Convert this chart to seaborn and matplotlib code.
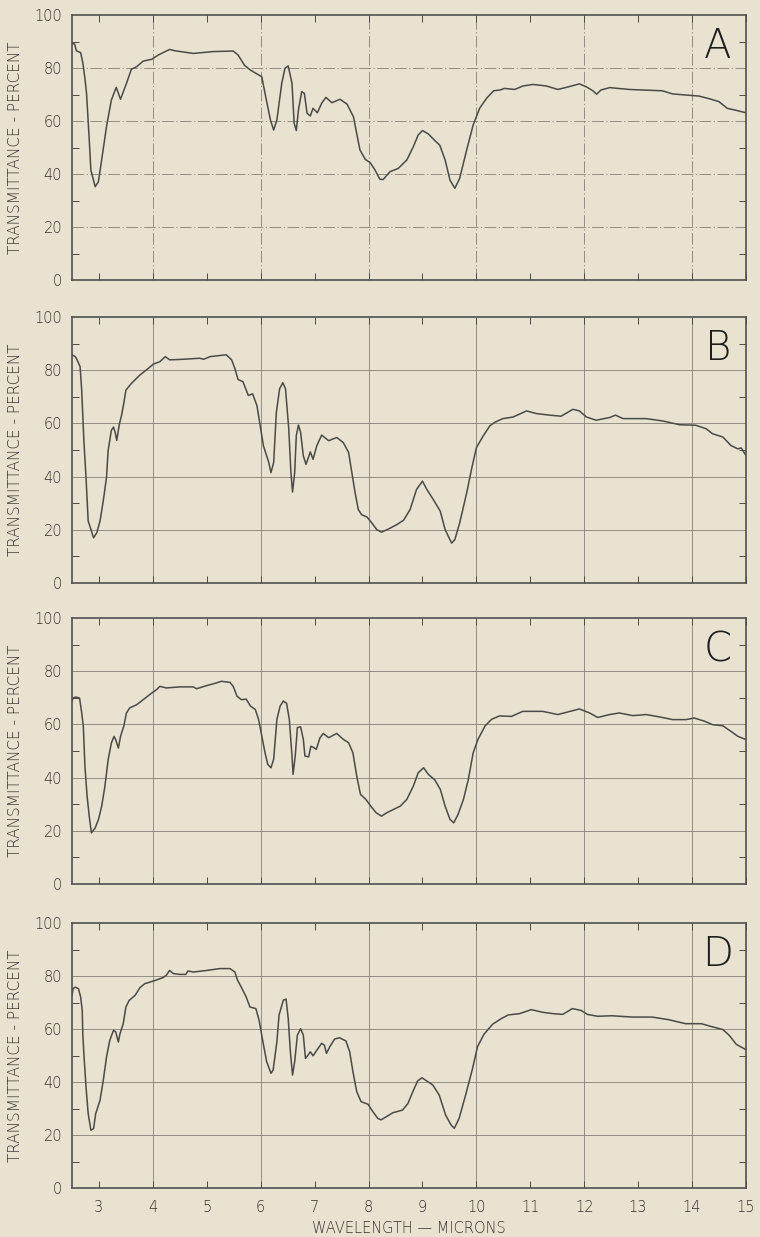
import matplotlib
matplotlib.use("Agg")
import matplotlib.pyplot as plt
import seaborn as sns
import pandas as pd
from matplotlib.ticker import FixedLocator

# ---------------- data ----------------
wl_A = [2.50, 2.55, 2.58, 2.66, 2.70, 2.74, 2.77, 2.82, 2.85, 2.93, 2.99, 3.05, 3.14, 3.23, 3.32, 3.40,
        3.51, 3.60, 3.70, 3.82, 3.98, 4.10, 4.31, 4.41, 4.75, 5.12, 5.49, 5.58, 5.70, 5.81, 6.02, 6.08,
        6.18, 6.24, 6.30, 6.39, 6.45, 6.51, 6.58, 6.62, 6.66, 6.70, 6.76, 6.81, 6.86, 6.92, 6.97, 7.05,
        7.13, 7.21, 7.32, 7.47, 7.60, 7.72, 7.78, 7.84, 7.94, 8.03, 8.12, 8.21, 8.27, 8.40, 8.55, 8.71,
        8.83, 8.92, 9.00, 9.11, 9.23, 9.32, 9.42, 9.51, 9.60, 9.69, 9.82, 9.94, 10.06, 10.19, 10.32, 10.44,
        10.52, 10.71, 10.86, 11.05, 11.30, 11.51, 11.67, 11.91, 12.04, 12.16, 12.23, 12.31, 12.47, 12.84,
        13.45, 13.64, 13.89, 14.13, 14.32, 14.50, 14.65, 14.78, 15.00]
tr_A = [89.3, 89.0, 86.5, 85.8, 82.0, 76.0, 70.4, 52.8, 41.5, 35.2, 37.1, 45.3, 57.9, 67.9, 72.7, 68.2,
        74.2, 79.5, 80.5, 82.6, 83.3, 84.9, 87.0, 86.5, 85.5, 86.2, 86.4, 84.9, 81.0, 79.2, 76.7, 70.4,
        60.4, 56.6, 60.4, 74.2, 79.9, 80.8, 74.2, 59.1, 56.4, 64.2, 71.1, 70.4, 62.9, 61.9, 64.8, 63.1,
        66.7, 68.9, 66.9, 68.2, 66.4, 61.6, 55.3, 49.1, 45.5, 44.3, 41.5, 38.0, 37.9, 40.9, 42.1, 45.3,
        50.3, 54.7, 56.4, 55.1, 52.6, 50.9, 45.3, 37.7, 34.6, 38.4, 49.1, 58.5, 64.8, 68.6, 71.4, 71.7,
        72.3, 71.9, 73.2, 73.8, 73.2, 71.9, 72.7, 74.0, 72.9, 71.4, 70.1, 71.7, 72.6, 71.9,
        71.4, 70.2, 69.8, 69.4, 68.4, 67.3, 64.8, 64.2, 63.1]

wl_B = [2.50, 2.56, 2.59, 2.65, 2.68, 2.72, 2.76, 2.80, 2.85, 2.90, 2.96, 3.02, 3.08, 3.14, 3.17, 3.23,
        3.27, 3.30, 3.33, 3.38, 3.42, 3.46, 3.50, 3.60, 3.76, 3.88, 4.01, 4.13, 4.23, 4.31, 4.56, 4.87,
        4.94, 5.06, 5.36, 5.46, 5.52, 5.58, 5.67, 5.77, 5.85, 5.93, 5.99, 6.05, 6.15, 6.19, 6.24, 6.29,
        6.35, 6.41, 6.46, 6.52, 6.56, 6.59, 6.63, 6.66, 6.70, 6.74, 6.79, 6.84, 6.92, 6.97, 7.04, 7.13,
        7.26, 7.41, 7.53, 7.63, 7.69, 7.75, 7.81, 7.87, 7.97, 8.06, 8.15, 8.24, 8.37, 8.52, 8.65, 8.77,
        8.89, 9.00, 9.08, 9.20, 9.33, 9.42, 9.54, 9.60, 9.69, 9.82, 9.91, 10.00, 10.13, 10.25, 10.34,
        10.49, 10.68, 10.93, 11.11, 11.36, 11.57, 11.79, 11.91, 12.04, 12.22, 12.47, 12.58, 12.72, 13.15,
        13.46, 13.77, 14.07, 14.26, 14.38, 14.57, 14.72, 14.85, 14.91, 15.00]
tr_B = [85.8, 85.1, 84.1, 81.3, 72.5, 53.6, 39.7, 23.3, 20.2, 17.0, 18.9, 23.3, 30.9, 39.7, 49.8, 57.4,
        58.6, 56.7, 53.6, 59.9, 63.1, 67.5, 72.5, 75.0, 78.2, 80.1, 82.3, 83.2, 85.1, 83.9, 84.1, 84.5,
        84.1, 85.1, 85.8, 83.9, 80.7, 76.5, 75.7, 70.5, 71.1, 66.7, 59.1, 51.6, 45.3, 41.5, 45.3, 64.2,
        73.0, 75.3, 73.0, 57.9, 41.5, 34.2, 41.5, 55.4, 59.4, 56.6, 47.8, 44.6, 49.3, 46.5, 51.6, 55.6,
        53.5, 54.7, 52.8, 49.1, 41.5, 34.0, 27.6, 25.7, 24.8, 22.6, 20.1, 19.1, 20.3, 21.9, 23.6, 27.6,
        35.2, 38.3, 35.2, 31.4, 27.0, 20.1, 15.0, 16.3, 22.6, 33.9, 42.8, 50.9, 55.4, 59.1, 60.4,
        61.8, 62.4, 64.7, 63.7, 63.1, 62.7, 65.3, 64.7, 62.4, 61.2, 62.2, 63.1, 61.8, 61.8,
        60.9, 59.5, 59.3, 58.0, 56.1, 54.9, 51.7, 50.4, 50.8, 47.9]

wl_C = [2.50, 2.52, 2.57, 2.64, 2.68, 2.71, 2.74, 2.78, 2.82, 2.86, 2.93, 2.99, 3.05, 3.11, 3.17, 3.23,
        3.28, 3.31, 3.36, 3.40, 3.46, 3.51, 3.57, 3.70, 3.82, 3.98, 4.07, 4.13, 4.25, 4.50, 4.75, 4.81,
        5.00, 5.18, 5.27, 5.43, 5.49, 5.56, 5.64, 5.73, 5.81, 5.90, 5.96, 6.02, 6.08, 6.13, 6.19, 6.24,
        6.30, 6.36, 6.42, 6.48, 6.53, 6.58, 6.60, 6.64, 6.68, 6.74, 6.79, 6.82, 6.89, 6.93, 6.98, 7.03,
        7.10, 7.16, 7.26, 7.41, 7.53, 7.63, 7.71, 7.78, 7.85, 7.95, 8.04, 8.14, 8.24, 8.34, 8.46, 8.59,
        8.71, 8.83, 8.92, 9.02, 9.11, 9.23, 9.33, 9.42, 9.51, 9.58, 9.66, 9.76, 9.85, 9.94, 10.03, 10.16,
        10.28, 10.43, 10.65, 10.86, 11.23, 11.51, 11.70, 11.91, 12.10, 12.25, 12.47, 12.65, 12.90, 13.15,
        13.40, 13.64, 13.89, 14.04, 14.23, 14.38, 14.57, 14.72, 14.85, 15.00]
tr_C = [68.7, 69.9, 70.3, 69.9, 64.3, 59.3, 44.2, 33.0, 25.4, 19.2, 21.1, 24.2, 29.2, 36.7, 46.7, 53.0,
        55.5, 54.3, 51.1, 55.5, 59.3, 64.3, 66.2, 67.4, 69.3, 71.8, 73.1, 74.3, 73.7, 74.1, 74.1, 73.4,
        74.6, 75.6, 76.2, 75.8, 74.3, 70.6, 69.3, 69.5, 66.9, 65.6, 61.9, 55.6, 49.3, 45.0, 43.7, 46.9,
        61.9, 66.9, 68.8, 67.9, 61.9, 48.1, 41.2, 48.1, 58.8, 59.1, 54.4, 48.1, 47.8, 51.8, 51.3, 50.6,
        55.0, 56.6, 55.0, 56.6, 54.4, 53.1, 49.3, 40.6, 33.7, 31.8, 29.3, 26.8, 25.5, 26.8, 28.0, 29.3,
        31.8, 36.8, 41.8, 43.7, 41.2, 39.1, 35.6, 29.3, 24.3, 23.0, 26.2, 31.8, 39.3, 49.3, 54.4, 59.4,
        61.9, 63.2, 63.0, 64.9, 64.9, 63.7, 64.7, 65.8, 64.3, 62.6, 63.7, 64.3, 63.3, 63.7,
        62.8, 61.8, 61.8, 62.4, 61.2, 59.9, 59.5, 57.4, 55.5, 54.3]

wl_D = [2.50, 2.52, 2.56, 2.62, 2.66, 2.69, 2.70, 2.72, 2.76, 2.80, 2.85, 2.90, 2.94, 3.02, 3.08, 3.14,
        3.20, 3.27, 3.31, 3.36, 3.39, 3.45, 3.50, 3.56, 3.67, 3.76, 3.85, 4.01, 4.19, 4.25, 4.31, 4.38,
        4.50, 4.61, 4.65, 4.75, 5.00, 5.24, 5.43, 5.52, 5.57, 5.64, 5.73, 5.80, 5.91, 5.97, 6.04, 6.11,
        6.19, 6.23, 6.30, 6.34, 6.42, 6.47, 6.51, 6.55, 6.59, 6.63, 6.68, 6.74, 6.79, 6.83, 6.88, 6.92,
        6.97, 7.03, 7.13, 7.18, 7.22, 7.28, 7.37, 7.46, 7.58, 7.65, 7.71, 7.78, 7.86, 7.99, 8.08, 8.17,
        8.23, 8.33, 8.45, 8.63, 8.73, 8.82, 8.91, 8.99, 9.10, 9.19, 9.31, 9.43, 9.53, 9.59, 9.68, 9.80,
        9.93, 10.02, 10.14, 10.30, 10.46, 10.59, 10.80, 11.02, 11.23, 11.42, 11.60, 11.78, 11.94, 12.06,
        12.25, 12.52, 12.89, 13.26, 13.57, 13.88, 14.17, 14.38, 14.57, 14.69, 14.82, 15.00]
tr_D = [72.7, 75.2, 75.8, 75.2, 72.1, 67.0, 58.2, 50.7, 38.1, 28.1, 21.8, 22.4, 28.1, 33.1, 40.6, 49.4,
        55.7, 59.5, 58.9, 55.1, 58.2, 62.0, 68.3, 70.8, 72.7, 75.6, 77.1, 78.1, 79.4, 80.3, 82.1, 80.9,
        80.6, 80.6, 81.9, 81.5, 82.1, 82.8, 82.8, 81.5, 78.4, 75.8, 72.1, 68.3, 67.7, 63.3, 55.2, 47.7,
        43.3, 44.5, 55.2, 65.3, 70.9, 71.3, 64.0, 51.4, 42.6, 47.7, 57.7, 60.1, 57.7, 48.9, 50.2, 51.4,
        49.9, 51.7, 54.6, 53.9, 50.8, 53.3, 56.2, 56.7, 55.5, 51.4, 43.9, 36.4, 32.6, 31.6, 28.8, 26.3,
        25.7, 26.9, 28.4, 29.4, 31.9, 36.3, 40.4, 41.6, 40.1, 38.9, 35.1, 27.5, 23.8, 22.5, 26.3, 35.1,
        45.2, 53.3, 58.0, 61.8, 63.9, 65.3, 65.8, 67.3, 66.3, 65.8, 65.5, 67.7, 67.0, 65.5,
        64.8, 65.0, 64.5, 64.5, 63.5, 62.0, 62.0, 60.8, 59.8, 57.6, 54.2, 52.2]

panel_labels = ["A", "B", "C", "D"]
x_ticks = [3, 4, 5, 6, 7, 8, 9, 10, 11, 12, 13, 14, 15]
y_ticks = [0, 20, 40, 60, 80, 100]
y_label = "TRANSMITTANCE - PERCENT"
x_label = "WAVELENGTH \u2014 MICRONS"

series = [(wl_A, tr_A), (wl_B, tr_B), (wl_C, tr_C), (wl_D, tr_D)]

# ---------------- styling ----------------
sns.set_theme(style="white")
plt.rcParams["font.family"] = ["DejaVu Sans"]
BG = "#e9e2d1"
INK = "#4a4a46"
GRID = "#857f75"
TXT = "#34332f"

fig = plt.figure(figsize=(7.6, 12.37), dpi=100, facecolor=BG)

L, R = 72 / 760, 746 / 760
H = 1237.0
tops_bottoms = [(15, 280), (317, 583), (618, 884), (923, 1188)]

for i, ((wl, tr), lab, (t, b)) in enumerate(zip(series, panel_labels, tops_bottoms)):
    ax = fig.add_axes([L, 1 - b / H, R - L, (b - t) / H])
    ax.set_facecolor(BG)
    df = pd.DataFrame({"wavelength": wl, "transmittance": tr})
    sns.lineplot(data=df, x="wavelength", y="transmittance", ax=ax, color=INK,
                 lw=1.1, estimator=None, sort=False)
    ax.set_xlim(2.5, 15)
    ax.set_ylim(0, 100)

    ls = (0, (14, 3, 1.5, 3)) if i == 0 else "-"
    for yv in [20, 40, 60, 80]:
        ax.axhline(yv, color=GRID, lw=0.6, ls=ls, zorder=0.5)
    for xv in [4, 6, 8, 10, 12, 14]:
        ax.axvline(xv, color=GRID, lw=0.6, ls=ls, zorder=0.5)

    ax.xaxis.set_major_locator(FixedLocator(x_ticks))
    ax.yaxis.set_major_locator(FixedLocator(y_ticks))
    ax.yaxis.set_minor_locator(FixedLocator([10, 30, 50, 70, 90]))
    ax.tick_params(axis="both", which="both", direction="in", colors=INK,
                   top=True, right=True, bottom=True, left=True)
    ax.tick_params(axis="x", which="major", length=5, width=0.7)
    ax.tick_params(axis="y", which="major", length=0, pad=7, labelsize=10.5,
                   labelcolor=TXT)
    ax.tick_params(axis="y", which="minor", length=5, width=0.7)
    ax.set_yticklabels([str(v) for v in y_ticks], fontweight="light")

    if i == 3:
        ax.set_xticklabels([str(v) for v in x_ticks], fontweight="light")
        ax.tick_params(axis="x", which="major", pad=9, labelsize=10.5, labelcolor=TXT)
        ax.set_xlabel(x_label, fontsize=10.5, color=TXT, labelpad=4, fontweight="light")
    else:
        ax.set_xticklabels([])
        ax.set_xlabel("")

    ax.set_ylabel(y_label, fontsize=11, color=TXT, labelpad=8, fontweight="light")

    for sp in ax.spines.values():
        sp.set_visible(True)
        sp.set_color("#505050")
        sp.set_linewidth(1.2)

    ax.text(0.958, 0.88, lab, transform=ax.transAxes, ha="center", va="center",
            fontsize=29, color="#1e1e1c", fontweight="light")

fig.savefig("out.png", dpi=100, facecolor=BG)
